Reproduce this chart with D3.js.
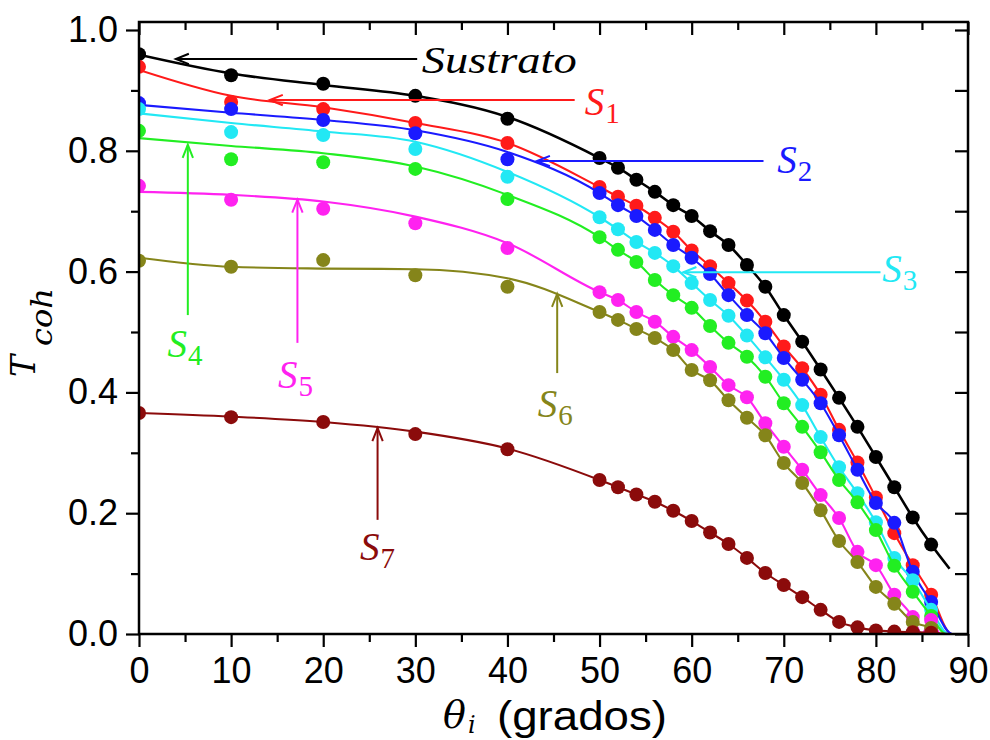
<!DOCTYPE html>
<html>
<head>
<meta charset="utf-8">
<script src="https://cdn.jsdelivr.net/npm/d3@7"></script>
<style>
  html, body { margin: 0; padding: 0; background: #ffffff; }
  svg { display: block; }
</style>
</head>
<body>
<svg id="chart" width="990" height="740"></svg>
<script>
// ---------------- DATA ----------------
const angles = [0, 10, 20, 30, 40, 50, 52, 54, 56, 58, 60, 62, 64, 66, 68, 70, 72, 74, 76, 78, 80, 82, 84, 86];

const sustrato = [0.960, 0.925, 0.911, 0.891, 0.853, 0.788, 0.772, 0.752, 0.732, 0.710, 0.692, 0.667, 0.644, 0.611, 0.575, 0.528, 0.484, 0.438, 0.391, 0.343, 0.293, 0.243, 0.193, 0.148];
const s1 = [0.939, 0.881, 0.869, 0.846, 0.813, 0.740, 0.724, 0.709, 0.689, 0.666, 0.635, 0.609, 0.581, 0.552, 0.517, 0.476, 0.440, 0.396, 0.338, 0.284, 0.226, 0.167, 0.114, 0.065];
const s2 = [0.879, 0.869, 0.851, 0.829, 0.786, 0.730, 0.710, 0.692, 0.669, 0.644, 0.623, 0.596, 0.561, 0.528, 0.498, 0.457, 0.421, 0.382, 0.329, 0.272, 0.217, 0.184, 0.103, 0.053];
const s3 = [0.869, 0.831, 0.826, 0.803, 0.757, 0.690, 0.670, 0.649, 0.631, 0.609, 0.581, 0.553, 0.527, 0.494, 0.458, 0.421, 0.379, 0.326, 0.276, 0.233, 0.185, 0.126, 0.089, 0.040];
const s4 = [0.833, 0.786, 0.781, 0.770, 0.720, 0.657, 0.636, 0.616, 0.586, 0.561, 0.540, 0.510, 0.482, 0.459, 0.426, 0.382, 0.343, 0.301, 0.255, 0.218, 0.172, 0.113, 0.070, 0.030];
const s5 = [0.742, 0.719, 0.704, 0.680, 0.639, 0.566, 0.553, 0.533, 0.517, 0.492, 0.470, 0.442, 0.412, 0.392, 0.349, 0.310, 0.272, 0.230, 0.192, 0.136, 0.114, 0.065, 0.028, 0.023];
const s6 = [0.618, 0.608, 0.619, 0.594, 0.575, 0.533, 0.520, 0.505, 0.490, 0.470, 0.437, 0.420, 0.387, 0.358, 0.329, 0.283, 0.250, 0.205, 0.154, 0.119, 0.078, 0.050, 0.020, 0.010];
const s7 = [0.366, 0.359, 0.351, 0.331, 0.306, 0.255, 0.243, 0.231, 0.219, 0.204, 0.187, 0.168, 0.149, 0.126, 0.101, 0.081, 0.061, 0.040, 0.020, 0.011, 0.006, 0.004, 0.003, 0.002];

// fitted curves: values read at low angles, then the curve follows the points, then a tail
const fitAngles = [0, 10, 20, 30, 40];
const fitSustrato = [0.959, 0.928, 0.909, 0.891, 0.856];
const fitS1 = [0.934, 0.891, 0.872, 0.846, 0.813];
const fitS2 = [0.876, 0.863, 0.851, 0.834, 0.798];
const fitS3 = [0.862, 0.846, 0.832, 0.815, 0.765];
const fitS4 = [0.821, 0.808, 0.796, 0.774, 0.727];
const fitS5 = [0.732, 0.727, 0.716, 0.691, 0.647];
const fitS6 = [0.623, 0.608, 0.605, 0.604, 0.589];
const fitS7 = [0.366, 0.360, 0.351, 0.335, 0.307];

const tailSustrato = [[88.0, 0.108]];
const tailS1 = [[88.2, 0.0], [90, 0.0]];
const tailS2 = [[88.3, 0.0], [90, 0.0]];
const tailS3 = [[87.9, 0.0], [90, 0.0]];
const tailS4 = [[87.6, 0.0], [90, 0.0]];
const tailS5 = [[85.0, 0.0], [86.0, 0.028], [87.0, 0.0], [90, 0.0]];
const tailS6 = [[87.0, 0.0], [90, 0.0]];
const tailS7 = [[88.0, 0.0], [90, 0.0]];

const seriesNames = ["Sustrato", "S1", "S2", "S3", "S4", "S5", "S6", "S7"];
const seriesValues = [sustrato, s1, s2, s3, s4, s5, s6, s7];
const seriesFits = [fitSustrato, fitS1, fitS2, fitS3, fitS4, fitS5, fitS6, fitS7];
const seriesTails = [tailSustrato, tailS1, tailS2, tailS3, tailS4, tailS5, tailS6, tailS7];
const seriesColors = ["#000000", "#ff1a1a", "#1a1aff", "#22e8f4", "#22ee22", "#ff22f0", "#85851a", "#8b0b0b"];

const xTickLabels = [0, 10, 20, 30, 40, 50, 60, 70, 80, 90];
const xMinorTicks = [5, 15, 25, 35, 45, 55, 65, 75, 85];
const yTickLabels = [0.0, 0.2, 0.4, 0.6, 0.8, 1.0];
const yMinorTicks = [0.1, 0.3, 0.5, 0.7, 0.9];

// annotations: label, subscript, tip [angle,T], tail [angle,T], text anchor [angle,T]
const annotations = [
  { main: "Sustrato", sub: "",  tip: [4.0, 0.952],  tail: [30.2, 0.952], text: [30.7, 0.929], s: 0 },
  { main: "S", sub: "1", tip: [14.2, 0.884], tail: [47.3, 0.884], text: [48.4, 0.859], s: 1 },
  { main: "S", sub: "2", tip: [43.2, 0.783], tail: [67.8, 0.783], text: [69.3, 0.763], s: 2 },
  { main: "S", sub: "3", tip: [59.1, 0.599], tail: [80.5, 0.599], text: [80.7, 0.583], s: 3 },
  { main: "S", sub: "4", tip: [5.3, 0.810],  tail: [5.3, 0.528],  text: [3.1, 0.459],  s: 4 },
  { main: "S", sub: "5", tip: [17.2, 0.719], tail: [17.2, 0.482], text: [15.1, 0.407], s: 5 },
  { main: "S", sub: "6", tip: [45.4, 0.563], tail: [45.4, 0.432], text: [43.3, 0.359], s: 6 },
  { main: "S", sub: "7", tip: [25.9, 0.341], tail: [25.9, 0.189], text: [24.0, 0.123], s: 7 }
];

// ---------------- DRAWING ----------------
const svg = d3.select("#chart");
const pLeft = 139, pRight = 968, pTop = 22, pBottom = 634;
const x = d3.scaleLinear().domain([0, 90]).range([pLeft, pRight]);
const y = d3.scaleLinear().domain([0, 1]).range([pBottom, 30]);

const tickFont = "'Liberation Sans', Arial, sans-serif";
const serif = "'Liberation Serif', 'Times New Roman', serif";
const mathSerif = "'DejaVu Serif', serif";

svg.append("rect").attr("width", 990).attr("height", 740).attr("fill", "#fff");

svg.append("defs").append("clipPath").attr("id", "clip")
  .append("rect").attr("x", pLeft).attr("y", pTop).attr("width", pRight - pLeft).attr("height", pBottom - pTop);

// axes
function styleAxis(g) {
  g.select(".domain").remove();
  g.selectAll(".tick line").attr("stroke", "#000").attr("stroke-width", 2.2);
  g.selectAll(".tick text").attr("font-family", tickFont).attr("font-size", 36).attr("fill", "#000");
}
svg.append("g").attr("transform", `translate(0,${pBottom})`)
  .call(d3.axisBottom(x).tickValues(xTickLabels).tickSize(13).tickPadding(10).tickFormat(d3.format("d")))
  .call(styleAxis);
svg.append("g").attr("transform", `translate(0,${pBottom})`)
  .call(d3.axisBottom(x).tickValues(xMinorTicks).tickSize(8).tickFormat(""))
  .call(styleAxis);
svg.append("g").attr("transform", `translate(${pLeft},0)`)
  .call(d3.axisLeft(y).tickValues(yTickLabels).tickSize(13).tickPadding(8).tickFormat(d3.format(".1f")))
  .call(styleAxis);
svg.append("g").attr("transform", `translate(${pLeft},0)`)
  .call(d3.axisLeft(y).tickValues(yMinorTicks).tickSize(8).tickFormat(""))
  .call(styleAxis);
svg.append("g").attr("transform", `translate(0,${pTop})`)
  .call(d3.axisTop(x).tickValues(xTickLabels).tickSize(-13).tickFormat(""))
  .call(styleAxis);
svg.append("g").attr("transform", `translate(0,${pTop})`)
  .call(d3.axisTop(x).tickValues(xMinorTicks).tickSize(-8).tickFormat(""))
  .call(styleAxis);
svg.append("g").attr("transform", `translate(${pRight},0)`)
  .call(d3.axisRight(y).tickValues(yTickLabels.concat(yMinorTicks)).tickSize(-13).tickFormat(""))
  .call(styleAxis);

// series
const line = d3.line().x(d => x(d[0])).y(d => y(d[1])).curve(d3.curveMonotoneX);
const plot = svg.append("g").attr("clip-path", "url(#clip)");

seriesValues.forEach((vals, i) => {
  const color = seriesColors[i];
  const tail = seriesTails[i];
  const head = fitAngles.map((a, k) => [a, seriesFits[i][k]]);
  const mid = angles.map((a, k) => [a, vals[k]]).filter(d => d[0] >= 50 && d[0] < tail[0][0]);
  const g = plot.append("g");
  g.append("path").datum(head.concat(mid, tail))
    .attr("d", line).attr("fill", "none").attr("stroke", color)
    .attr("stroke-width", i === 0 ? 2.6 : 2.1);
  g.selectAll("circle").data(angles.map((a, k) => [a, vals[k]]))
    .join("circle")
    .attr("cx", d => x(d[0])).attr("cy", d => y(d[1])).attr("r", 7)
    .attr("fill", color);
});

// frame
svg.append("rect").attr("x", pLeft).attr("y", pTop).attr("width", pRight - pLeft).attr("height", pBottom - pTop)
  .attr("fill", "none").attr("stroke", "#000").attr("stroke-width", 2.5);

// annotations
annotations.forEach(a => {
  const color = seriesColors[a.s];
  const g = svg.append("g");
  const tx = x(a.tip[0]), ty = y(a.tip[1]);
  const sx = x(a.tail[0]), sy = y(a.tail[1]);
  g.append("line").attr("x1", sx).attr("y1", sy).attr("x2", tx).attr("y2", ty)
    .attr("stroke", color).attr("stroke-width", 2);
  const ang = Math.atan2(sy - ty, sx - tx);
  const L = 14, spread = 0.38;
  const p1 = [tx + L * Math.cos(ang + spread), ty + L * Math.sin(ang + spread)];
  const p2 = [tx + L * Math.cos(ang - spread), ty + L * Math.sin(ang - spread)];
  g.append("path").attr("d", `M${p1[0]},${p1[1]}L${tx},${ty}L${p2[0]},${p2[1]}`)
    .attr("fill", "none").attr("stroke", color).attr("stroke-width", 2);
  const t = g.append("text").attr("x", x(a.text[0])).attr("y", y(a.text[1]))
    .attr("font-family", serif).attr("font-style", "italic").attr("fill", color);
  if (a.sub === "") {
    t.attr("font-size", 38).attr("textLength", 155).attr("lengthAdjust", "spacingAndGlyphs").text(a.main);
  } else {
    t.attr("font-size", 39);
    t.append("tspan").text(a.main);
    t.append("tspan").attr("font-size", 29).attr("font-style", "normal").attr("dy", 8).attr("dx", 1).text(a.sub);
  }
});

// y axis title (rotated)
const yTitle = svg.append("g").attr("transform", "translate(35,377) rotate(-90)");
yTitle.append("text").attr("x", 0).attr("y", 0)
  .attr("font-family", mathSerif).attr("font-style", "italic").attr("font-size", 33)
  .attr("fill", "#000").text("T");
yTitle.append("text").attr("x", 31).attr("y", 17)
  .attr("font-family", mathSerif).attr("font-style", "italic").attr("font-size", 29)
  .attr("textLength", 58).attr("lengthAdjust", "spacingAndGlyphs").attr("fill", "#000").text("coh");

// x axis title
svg.append("text").attr("x", 443).attr("y", 728)
  .attr("font-family", mathSerif).attr("font-style", "italic").attr("font-size", 38)
  .attr("fill", "#000").text("θ");
svg.append("text").attr("x", 468).attr("y", 733)
  .attr("font-family", mathSerif).attr("font-style", "italic").attr("font-size", 24)
  .attr("fill", "#000").text("i");
svg.append("text").attr("x", 497).attr("y", 730)
  .attr("font-family", tickFont).attr("font-size", 41)
  .attr("textLength", 170).attr("lengthAdjust", "spacingAndGlyphs")
  .attr("fill", "#000").text("(grados)");
</script>
</body>
</html>
